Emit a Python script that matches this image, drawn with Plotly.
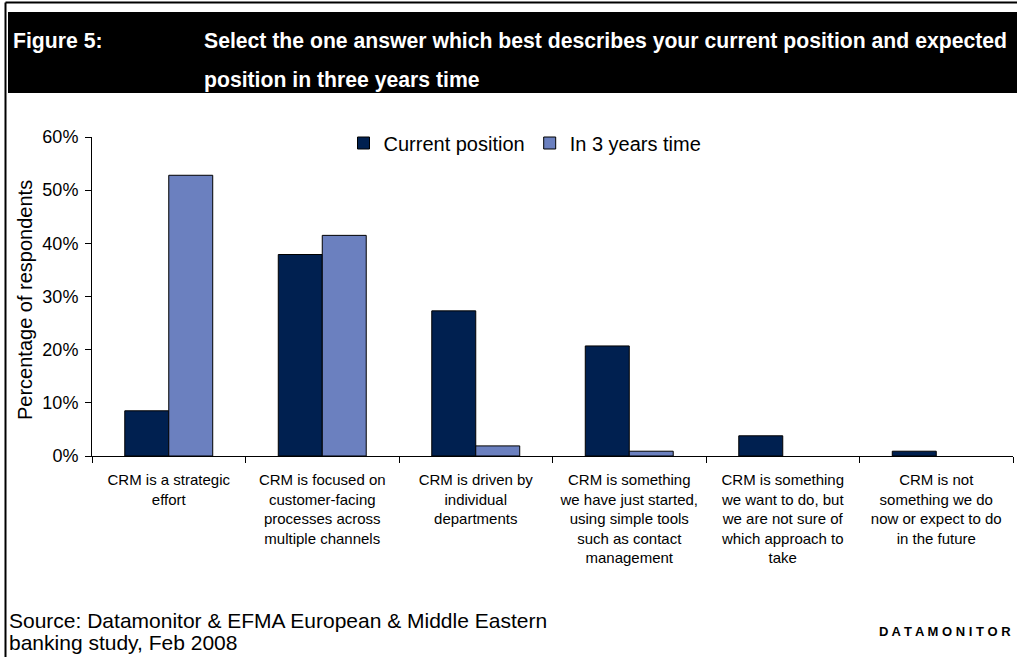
import plotly.graph_objects as go

# ---- data ----
categories = [
    "CRM is a strategic<br>effort",
    "CRM is focused on<br>customer-facing<br>processes across<br>multiple channels",
    "CRM is driven by<br>individual<br>departments",
    "CRM is something<br>we have just started,<br>using simple tools<br>such as contact<br>management",
    "CRM is something<br>we want to do, but<br>we are not sure of<br>which approach to<br>take",
    "CRM is not<br>something we do<br>now or expect to do<br>in the future",
]
current_position = [8.5, 37.9, 27.3, 20.7, 3.8, 0.9]
in_3_years = [52.8, 41.5, 1.9, 0.9, 0.0, 0.0]
y_ticks = [0, 10, 20, 30, 40, 50, 60]
y_tick_labels = ["0%", "10%", "20%", "30%", "40%", "50%", "60%"]
series_names = ["Current position", "In 3 years time"]

# ---- layout geometry (pixels) ----
W, H = 1017, 657
L, R, T, B = 92, 1013, 137, 456


def px(x):
    return (x - L) / (R - L)


def py(y):
    return (B - y) / (B - T)


FONT = "Liberation Sans, Arial, sans-serif"
DARK = "#002050"
LIGHT = "#6b80bf"


def outline_widths(vals):
    return [1 if v > 0 else 0 for v in vals]


fig = go.Figure()
fig.add_trace(go.Bar(x=categories, y=current_position, name=series_names[0],
                     marker=dict(color=DARK, line=dict(color="black",
                                                       width=outline_widths(current_position)))))
fig.add_trace(go.Bar(x=categories, y=in_3_years, name=series_names[1],
                     marker=dict(color=LIGHT, line=dict(color="black",
                                                        width=outline_widths(in_3_years)))))

fig.update_layout(
    width=W, height=H,
    margin=dict(l=L, r=W - R, t=T, b=H - B, autoexpand=False),
    paper_bgcolor="white", plot_bgcolor="white",
    barmode="group", bargap=0.427, bargroupgap=0,
    font=dict(family=FONT, color="black"),
    showlegend=True,
    legend=dict(orientation="h", x=px(525), xanchor="center", y=py(143), yanchor="middle",
                font=dict(size=20, family=FONT), bgcolor="rgba(0,0,0,0)",
                itemclick=False, traceorder="normal"),
    xaxis=dict(showline=True, linecolor="black", linewidth=1, ticks="outside",
               tickson="boundaries", ticklen=6, tickcolor="black",
               tickfont=dict(size=15, family=FONT), showgrid=False,
               tickangle=0, ticklabelstandoff=10, automargin=False),
    yaxis=dict(range=[0, 60], tickmode="array", tickvals=y_ticks, ticktext=y_tick_labels,
               showline=True, linecolor="black", linewidth=1, ticks="outside", ticklen=6,
               tickcolor="black", tickfont=dict(size=18, family=FONT),
               ticklabelstandoff=3,
               showgrid=False, zeroline=False, automargin=False),
)

shapes = [
    # outer frame (top and left)
    dict(type="line", xref="paper", yref="paper", x0=px(5.5), x1=px(W), y0=py(2.5), y1=py(2.5),
         line=dict(color="black", width=2)),
    dict(type="line", xref="paper", yref="paper", x0=px(5.5), x1=px(5.5), y0=py(2.5), y1=py(H),
         line=dict(color="black", width=2)),
    # header band
    dict(type="rect", xref="paper", yref="paper", x0=px(8), x1=px(W), y0=py(12), y1=py(93),
         fillcolor="black", line=dict(width=0), layer="below"),
]
fig.update_layout(shapes=shapes)

HDR = 21.2
ann = [
    dict(text="<b>Figure 5:</b>", x=px(11), y=py(41), xanchor="left", yanchor="middle",
         font=dict(size=HDR, color="white", family=FONT)),
    dict(text="<b>Select the one answer which best describes your current position and expected</b>",
         x=px(202), y=py(41), xanchor="left", yanchor="middle",
         font=dict(size=HDR, color="white", family=FONT)),
    dict(text="<b>position in three years time</b>", x=px(202), y=py(80), xanchor="left",
         yanchor="middle", font=dict(size=HDR, color="white", family=FONT)),
    dict(text="Percentage of respondents", x=px(25), y=py(300), xanchor="center",
         yanchor="middle", textangle=-90, font=dict(size=20, family=FONT)),
    dict(text="Source: Datamonitor & EFMA European & Middle Eastern", x=px(7), y=py(620),
         xanchor="left", yanchor="middle", font=dict(size=21, family=FONT)),
    dict(text="banking study, Feb 2008", x=px(7), y=py(642),
         xanchor="left", yanchor="middle", font=dict(size=21, family=FONT)),
    dict(text="<b>D A T A M O N I T O R</b>", x=px(1013), y=py(631),
         xanchor="right", yanchor="middle", font=dict(size=13, family=FONT)),
]
for a in ann:
    a.update(xref="paper", yref="paper", showarrow=False)
fig.update_layout(annotations=ann)

fig.write_html("out.html")
